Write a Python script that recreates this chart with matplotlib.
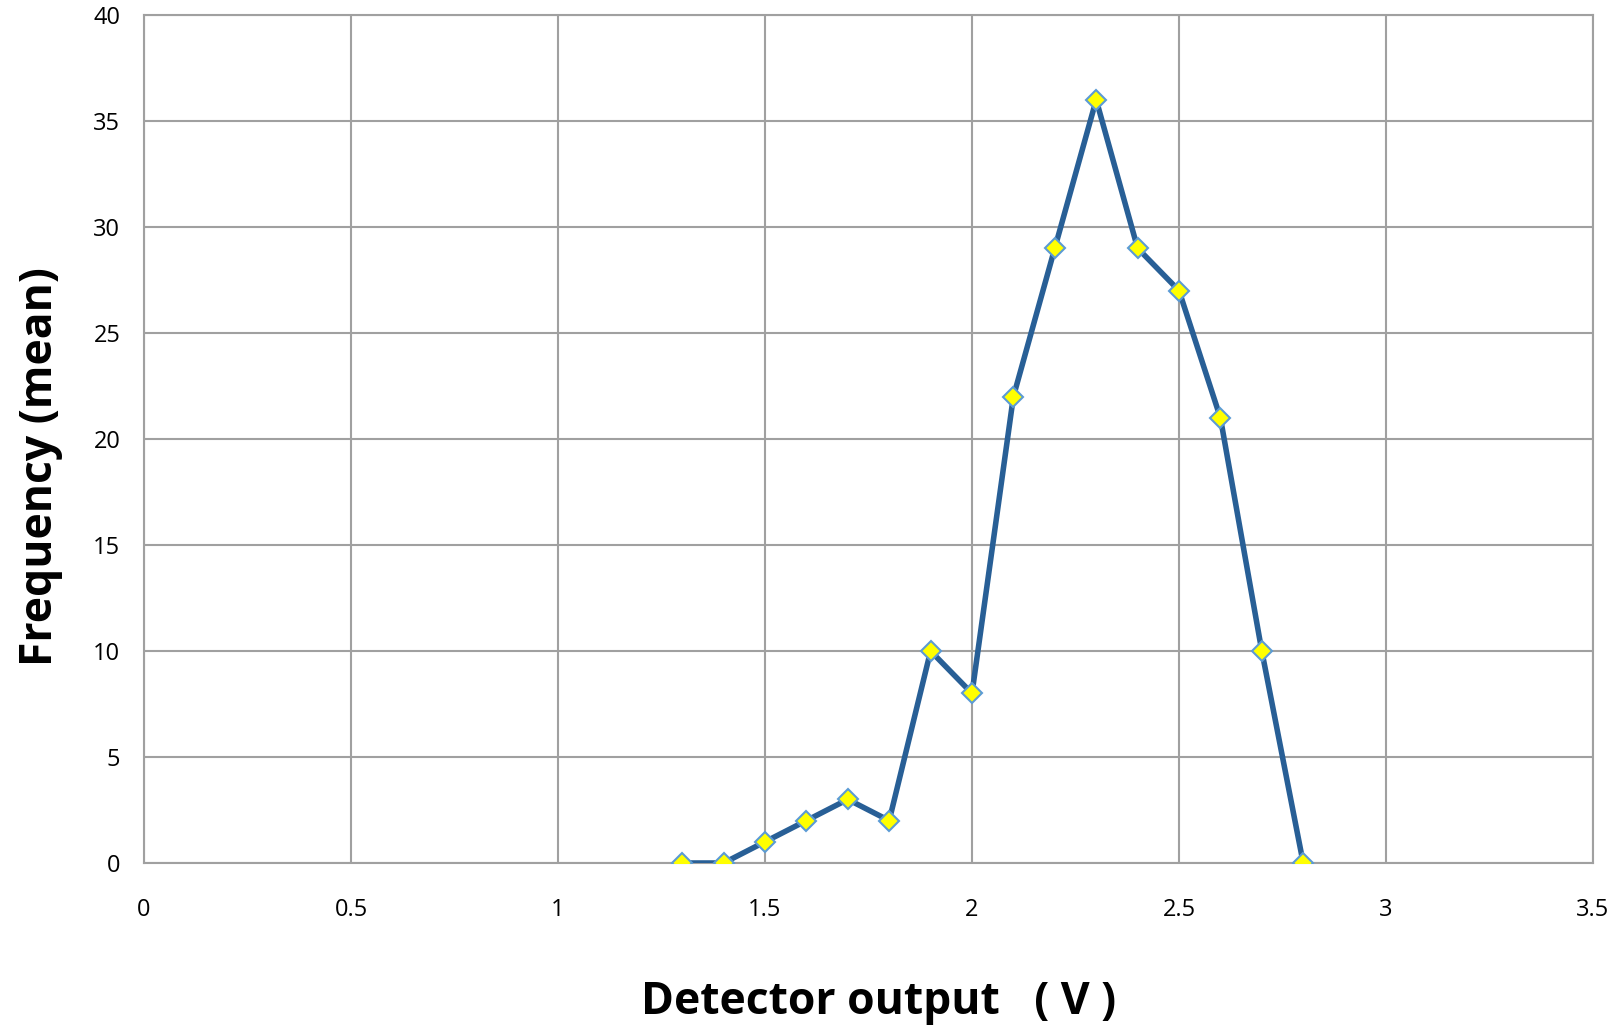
import numpy as np
import matplotlib.pyplot as plt

plt.rcParams['font.family'] = ['Open Sans', 'DejaVu Sans']

# detector output (V) and mean frequency
voltage = [1.3, 1.4, 1.5, 1.6, 1.7, 1.8, 1.9, 2.0, 2.1, 2.2, 2.3, 2.4, 2.5, 2.6, 2.7, 2.8]
frequency = [0, 0, 1, 2, 3, 2, 10, 8, 22, 29, 36, 29, 27, 21, 10, 0]
x_ticks = [0, 0.5, 1, 1.5, 2, 2.5, 3, 3.5]
x_tick_labels = ['0', '0.5', '1', '1.5', '2', '2.5', '3', '3.5']
y_ticks = [0, 5, 10, 15, 20, 25, 30, 35, 40]

fig = plt.figure(figsize=(16.21, 10.31), dpi=100)
ax = fig.add_axes([144 / 1621, 1 - 863 / 1031, (1593 - 144) / 1621, (863 - 15) / 1031])

ax.plot(voltage, frequency, color='#285F96', linewidth=4.0, marker='D',
        markersize=10.5, markerfacecolor='#FFFF00', markeredgecolor='#5B9BD5',
        markeredgewidth=1.5, zorder=3)

ax.set_xlim(0, 3.5)
ax.set_ylim(0, 40)
ax.set_xticks(x_ticks)
ax.set_xticklabels(x_tick_labels)
ax.set_yticks(y_ticks)
ax.grid(True, color='#A0A0A0', linewidth=1.5)
ax.set_axisbelow(True)
for s in ax.spines.values():
    s.set_color('#A0A0A0')
    s.set_linewidth(1.5)
ax.tick_params(length=0, labelsize=17)
ax.tick_params(axis='x', pad=25)
ax.tick_params(axis='y', pad=17)

ax.set_xlabel('Detector output   ( V )', fontsize=32, fontweight='bold', labelpad=42)
ax.set_ylabel('Frequency (mean)', fontsize=32, fontweight='bold', labelpad=22)
ax.xaxis.label.set_x(0.507)
ax.yaxis.label.set_y(0.467)

fig.savefig('out.png', dpi=100)
